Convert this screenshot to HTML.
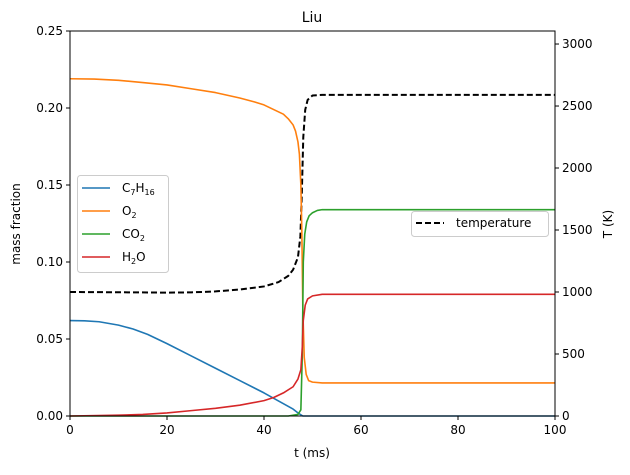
<!DOCTYPE html>
<html><head><meta charset="utf-8"><style>
body{margin:0;background:#fff;font-family:"Liberation Sans","DejaVu Sans",sans-serif}
svg text{font-family:"DejaVu Sans","Liberation Sans",sans-serif;font-size:12px;fill:#000}
</style></head><body>
<svg id="chart" width="630" height="470"></svg>
<script>
const tC7=[0,3,6,10,13,16,20,25,30,35,40,44,46,47,48,100];
const vC7=[0.062,0.0618,0.0612,0.059,0.0565,0.053,0.047,0.039,0.031,0.023,0.015,0.008,0.0045,0.002,0,0];
const tO2=[0,5,10,15,20,25,30,35,38,40,42,44,45,46,46.5,47,47.3,47.6,47.8,48,48.3,48.7,49.2,50,52,100];
const vO2=[0.219,0.2188,0.218,0.2165,0.215,0.2125,0.210,0.2065,0.204,0.202,0.199,0.196,0.193,0.189,0.185,0.178,0.17,0.15,0.12,0.07,0.038,0.027,0.023,0.022,0.0215,0.0215];
const tCO2=[0,45,47,47.6,47.9,48.1,48.4,48.8,49.3,50,51,52,100];
const vCO2=[0,0,0.001,0.004,0.04,0.1,0.118,0.126,0.130,0.132,0.1335,0.134,0.134];
const tH2O=[0,10,15,20,25,30,35,40,42,44,46,47,47.6,47.9,48.1,48.5,49,50,52,100];
const vH2O=[0,0.0005,0.001,0.002,0.0035,0.005,0.007,0.010,0.012,0.015,0.019,0.024,0.03,0.045,0.062,0.072,0.076,0.078,0.079,0.079];
const tT=[0,10,20,25,30,35,40,43,45,46,47,47.5,47.8,48.1,48.5,49,50,52,100];
const vT=[1000,998,995,997,1005,1020,1045,1080,1130,1180,1280,1450,1800,2250,2470,2550,2585,2590,2590];
const xTicks=[0,20,40,60,80,100];
const yTicks=[0,0.05,0.1,0.15,0.2,0.25];
const y2Ticks=[0,500,1000,1500,2000,2500,3000];
const L=70,R=555,T=31,B=416;
const X=t=>L+(t/100)*(R-L);
const Y=v=>B-(v/0.25)*(B-T);
const Y2=v=>B-(v/3105)*(B-T);
const svg=document.getElementById('chart');
const NS='http://www.w3.org/2000/svg';
function mk(tag,at,txt){const e=document.createElementNS(NS,tag);for(const k in at)e.setAttribute(k,at[k]);if(txt!==undefined)e.textContent=txt;svg.appendChild(e);return e;}
function line(ts,vs,yf,color,name,dash){
 const d=ts.map((t,i)=>(i?'L':'M')+X(t).toFixed(2)+','+yf(vs[i]).toFixed(2)).join('');
 const p=mk('path',{d:d,fill:'none',stroke:color,'stroke-width':dash?2:1.6,'stroke-dasharray':dash||'none','stroke-linejoin':'round'});
 
 
}
line(tT,vT,Y2,'#000','temperature-line','6,3');
line(tC7,vC7,Y,'#1f77b4','c7h16-line');
line(tO2,vO2,Y,'#ff7f0e','o2-line');
line(tCO2,vCO2,Y,'#2ca02c','co2-line');
line(tH2O,vH2O,Y,'#d62728','h2o-line');
const fr=mk('rect',{x:L,y:T,width:R-L,height:B-T,fill:'none',stroke:'#000','stroke-width':1});


xTicks.forEach(t=>{mk('line',{x1:X(t),x2:X(t),y1:B,y2:B+4,stroke:'#000'});
 const e=mk('text',{x:X(t),y:B+18,'text-anchor':'middle'},t);
 
 });
yTicks.forEach(v=>{mk('line',{x1:L-4,x2:L,y1:Y(v),y2:Y(v),stroke:'#000'});
 const e=mk('text',{x:L-7,y:Y(v)+4,'text-anchor':'end'},v.toFixed(2));
 
 });
y2Ticks.forEach(v=>{mk('line',{x1:R,x2:R+4,y1:Y2(v),y2:Y2(v),stroke:'#000'});
 const e=mk('text',{x:R+7,y:Y2(v)+4,'text-anchor':'start'},v);
 
 });
</script>
<svg width="630" height="470" style="position:absolute;left:0;top:0">
<text x="312" y="22" text-anchor="middle" style="font-size:14px">Liu</text>
<text x="312" y="457" text-anchor="middle">t (ms)</text>
<text x="20" y="224" text-anchor="middle" transform="rotate(-90 20 224)">mass fraction</text>
<text x="612" y="224" text-anchor="middle" transform="rotate(-90 612 224)">T (K)</text>
<g>
<rect x="77.5" y="175.5" width="91" height="97" rx="3" fill="#fff" fill-opacity="0.8" stroke="#ccc"/>
<line x1="82" x2="110" y1="188" y2="188" stroke="#1f77b4" stroke-width="1.6"/>
<text x="122" y="192">C<tspan font-size="8" dy="3">7</tspan><tspan dy="-3">H</tspan><tspan font-size="8" dy="3">16</tspan></text>
<line x1="82" x2="110" y1="211" y2="211" stroke="#ff7f0e" stroke-width="1.6"/>
<text x="122" y="215">O<tspan font-size="8" dy="3">2</tspan></text>
<line x1="82" x2="110" y1="234" y2="234" stroke="#2ca02c" stroke-width="1.6"/>
<text x="122" y="238">CO<tspan font-size="8" dy="3">2</tspan></text>
<line x1="82" x2="110" y1="257" y2="257" stroke="#d62728" stroke-width="1.6"/>
<text x="122" y="261">H<tspan font-size="8" dy="3">2</tspan><tspan dy="-3">O</tspan></text>
</g>
<g>
<rect x="411.5" y="211.5" width="137" height="25" rx="3" fill="#fff" fill-opacity="0.8" stroke="#ccc"/>
<line x1="416" x2="444" y1="223" y2="223" stroke="#000" stroke-width="2" stroke-dasharray="6,3"/>
<text x="456" y="227">temperature</text>
</g>
</svg>
</body></html>
